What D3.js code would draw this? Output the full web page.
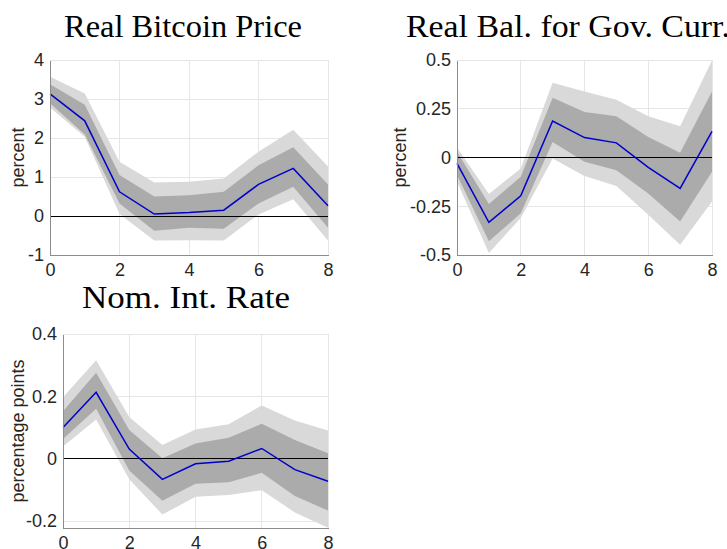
<!DOCTYPE html>
<html><head><meta charset="utf-8">
<script src="https://cdn.jsdelivr.net/npm/d3@7"></script>
<style>body{margin:0;background:#fff}</style>
</head><body><svg id="c" width="727" height="549"></svg>
<script>
// ---------- data ----------
const horizons = [0,1,2,3,4,5,6,7,8];
const xTicks = [0,2,4,6,8];

const btcMedian = [3.13, 2.44, 0.62, 0.05, 0.09, 0.15, 0.81, 1.22, 0.26];
const btcLo68   = [2.89, 2.09, 0.32, -0.38, -0.30, -0.33, 0.32, 0.75, -0.30];
const btcHi68   = [3.38, 2.85, 1.05, 0.50, 0.53, 0.62, 1.30, 1.76, 0.81];
const btcLo90   = [2.78, 2.03, 0.05, -0.63, -0.62, -0.63, 0.04, 0.43, -0.63];
const btcHi90   = [3.57, 3.14, 1.39, 0.86, 0.88, 0.96, 1.65, 2.21, 1.27];
const btcYTicks = [-1, 0, 1, 2, 3, 4];
const btcYLabels = ["-1","0","1","2","3","4"];

const balMedian = [-0.030, -0.333, -0.196, 0.187, 0.102, 0.075, -0.051, -0.158, 0.134];
const balLo68   = [-0.090, -0.430, -0.286, 0.080, -0.022, -0.065, -0.184, -0.328, -0.073];
const balHi68   = [0.029, -0.238, -0.099, 0.306, 0.233, 0.211, 0.105, 0.024, 0.338];
const balLo90   = [-0.124, -0.490, -0.310, -0.005, -0.095, -0.146, -0.294, -0.447, -0.226];
const balHi90   = [0.051, -0.187, -0.056, 0.383, 0.338, 0.296, 0.211, 0.160, 0.497];
const balYTicks = [-0.5, -0.25, 0, 0.25, 0.5];
const balYLabels = ["-0.5","-0.25","0","0.25","0.5"];

const rateMedian = [0.100, 0.213, 0.031, -0.066, -0.016, -0.008, 0.033, -0.035, -0.072];
const rateLo68   = [0.063, 0.160, -0.038, -0.135, -0.080, -0.075, -0.045, -0.119, -0.166];
const rateHi68   = [0.152, 0.276, 0.092, 0.002, 0.049, 0.067, 0.112, 0.060, 0.018];
const rateLo90   = [0.039, 0.126, -0.066, -0.179, -0.122, -0.116, -0.101, -0.172, -0.221];
const rateHi90   = [0.197, 0.316, 0.134, 0.044, 0.094, 0.111, 0.171, 0.123, 0.091];
const rateYTicks = [-0.2, 0, 0.2, 0.4];
const rateYLabels = ["-0.2","0","0.2","0.4"];

const titles = ["Real Bitcoin Price", "Real Bal. for Gov. Curr.", "Nom. Int. Rate"];
const yLabels = ["percent", "percent", "percentage points"];

// ---------- layout ----------
const panels = [
  {title: titles[0], ylab: yLabels[0], med: btcMedian, lo68: btcLo68, hi68: btcHi68, lo90: btcLo90, hi90: btcHi90,
   yDom: [-1, 4], yT: btcYTicks, yL: btcYLabels,
   x0: 50, x1: 328, y0: 60, y1: 255, tX: 183, tY: 37, tW: 238, labX: 18},
  {title: titles[1], ylab: yLabels[1], med: balMedian, lo68: balLo68, hi68: balHi68, lo90: balLo90, hi90: balHi90,
   yDom: [-0.5, 0.5], yT: balYTicks, yL: balYLabels,
   x0: 457, x1: 712, y0: 60, y1: 255, tX: 568, tY: 37, tW: 324, labX: 400},
  {title: titles[2], ylab: yLabels[2], med: rateMedian, lo68: rateLo68, hi68: rateHi68, lo90: rateLo90, hi90: rateHi90,
   yDom: [-0.222, 0.4], yT: rateYTicks, yL: rateYLabels,
   x0: 63, x1: 328, y0: 334, y1: 528, tX: 186, tY: 308, tW: 208, labX: 18}
];

const svg = d3.select("#c");
const sans = "'Liberation Sans', Arial, sans-serif";

panels.forEach(p => {
  const x = d3.scaleLinear().domain([0, 8]).range([p.x0, p.x1]);
  const y = d3.scaleLinear().domain(p.yDom).range([p.y1, p.y0]);
  const g = svg.append("g");

  // grid
  g.selectAll(".gx").data(xTicks).join("line")
    .attr("x1", d => x(d)).attr("x2", d => x(d)).attr("y1", p.y0).attr("y2", p.y1)
    .attr("stroke", "#e6e6e6").attr("stroke-width", 1).attr("shape-rendering", "crispEdges");
  g.selectAll(".gy").data(p.yT).join("line")
    .attr("x1", p.x0).attr("x2", p.x1).attr("y1", d => y(d)).attr("y2", d => y(d))
    .attr("stroke", "#e6e6e6").attr("stroke-width", 1).attr("shape-rendering", "crispEdges");

  const idx = horizons.map((h, i) => i);
  const area = (lo, hi) => d3.area().x(i => x(horizons[i])).y0(i => y(lo[i])).y1(i => y(hi[i]));
  g.append("path").attr("d", area(p.lo90, p.hi90)(idx)).attr("fill", "#d9d9d9");
  g.append("path").attr("d", area(p.lo68, p.hi68)(idx)).attr("fill", "#ababab");

  // zero line
  g.append("line").attr("x1", p.x0).attr("x2", p.x1).attr("y1", y(0)).attr("y2", y(0))
    .attr("stroke", "#000").attr("stroke-width", 1).attr("shape-rendering", "crispEdges");

  // median
  g.append("path").attr("d", d3.line().x(i => x(horizons[i])).y(i => y(p.med[i]))(idx))
    .attr("fill", "none").attr("stroke", "#0000cc").attr("stroke-width", 1.5);

  // axes
  const ax = d3.axisBottom(x).tickValues(xTicks).tickSize(0).tickPadding(8).tickFormat(d => String(d));
  const gxA = g.append("g").attr("transform", `translate(0,${p.y1})`).call(ax);
  const ay = d3.axisLeft(y).tickValues(p.yT).tickSize(0).tickPadding(6).tickFormat((d, i) => p.yL[i]);
  const gyA = g.append("g").attr("transform", `translate(${p.x0},0)`).call(ay);
  [gxA, gyA].forEach(a => {
    a.select(".domain").attr("stroke", "#8c8c8c").attr("stroke-width", 1).attr("shape-rendering", "crispEdges");
    a.selectAll("text").attr("font-family", sans).attr("font-size", 18).attr("fill", "#262626");
  });

  // y label
  g.append("text").attr("transform", `translate(${p.labX},${(p.y0 + p.y1) / 2}) rotate(-90)`)
    .attr("text-anchor", "middle").attr("dominant-baseline", "central")
    .attr("font-family", sans).attr("font-size", 18).attr("fill", "#262626").text(p.ylab);

  // title
  g.append("text").attr("x", p.tX).attr("y", p.tY).attr("text-anchor", "middle")
    .attr("font-family", "'Liberation Serif', 'Times New Roman', serif").attr("font-size", 31)
    .attr("textLength", p.tW).attr("lengthAdjust", "spacingAndGlyphs")
    .attr("fill", "#000").text(p.title);
});
</script></body></html>
